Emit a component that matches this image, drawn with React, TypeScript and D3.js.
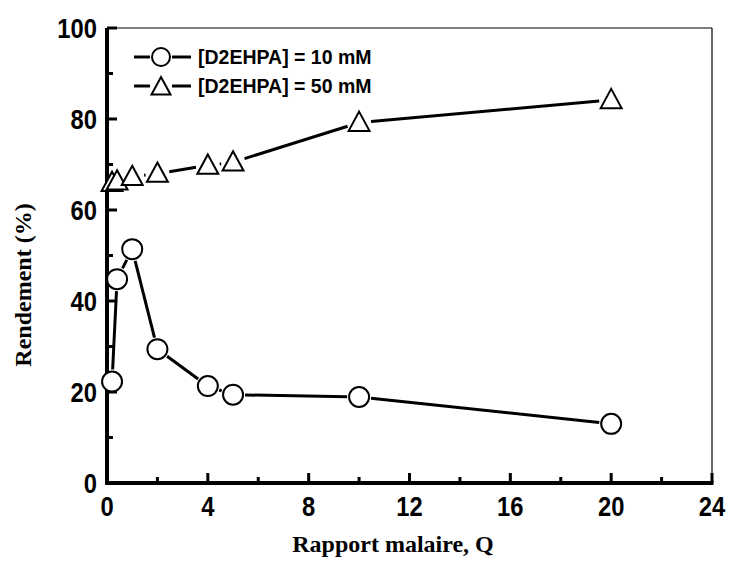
import React from "react";
import * as d3 from "d3";

const xValues = [0.2, 0.4, 1, 2, 4, 5, 10, 20];
const series10 = [22.3, 44.8, 51.4, 29.4, 21.3, 19.4, 18.9, 13.0];
const series50 = [66.0, 66.3, 67.3, 68.0, 69.8, 70.5, 79.2, 84.2];
const xTicks = [0, 4, 8, 12, 16, 20, 24];
const yTicks = [0, 20, 40, 60, 80, 100];
const legendLabels = ["[D2EHPA] = 10 mM", "[D2EHPA] = 50 mM"];

const W = 729, H = 564;
const L = 107, R = 712, T = 28, B = 483;

export default function App() {
  const x = d3.scaleLinear().domain([0, 24]).range([L, R]);
  const y = d3.scaleLinear().domain([0, 100]).range([B, T]);
  const minorX = d3.range(0, 25, 2);
  const minorY = d3.range(0, 101, 10);
  const r = 10;
  const gap = 12;

  const segs = (vals: number[]) => {
    const out: JSX.Element[] = [];
    for (let i = 0; i < vals.length - 1; i++) {
      const x1 = x(xValues[i]), y1 = y(vals[i]);
      const x2 = x(xValues[i + 1]), y2 = y(vals[i + 1]);
      const dx = x2 - x1, dy = y2 - y1;
      const len = Math.hypot(dx, dy);
      if (len <= 2 * gap) continue;
      const ux = dx / len, uy = dy / len;
      out.push(
        <line key={i} x1={x1 + ux * gap} y1={y1 + uy * gap} x2={x2 - ux * gap} y2={y2 - uy * gap}
          stroke="#000" strokeWidth={3} />
      );
    }
    return out;
  };

  const tri = (cx: number, cy: number, s = 11) =>
    `M${cx},${cy - s} L${cx + s * 0.95},${cy + s * 0.75} L${cx - s * 0.95},${cy + s * 0.75} Z`;

  const sans = "Liberation Sans, Arial, sans-serif";
  const serif = "Liberation Serif, Times New Roman, serif";

  return (
    <svg width={W} height={H} style={{ position: "absolute", left: 0, top: 0, background: "#fff" }}>
      <rect x={0} y={0} width={W} height={H} fill="#fff" />
      <line x1={L} y1={T} x2={R} y2={T} stroke="#000" strokeWidth={1.2} />
      <line x1={R} y1={T} x2={R} y2={B} stroke="#000" strokeWidth={1.2} />
      {minorX.map((v) => (
        <line key={"mx" + v} x1={x(v)} x2={x(v)} y1={B} y2={B - (v % 4 === 0 ? 10 : 6)} stroke="#000" strokeWidth={3} />
      ))}
      {minorY.map((v) => (
        <line key={"my" + v} x1={L} x2={L + (v % 20 === 0 ? 10 : 6)} y1={y(v)} y2={y(v)} stroke="#000" strokeWidth={3} />
      ))}
      <line x1={L} y1={T} x2={L} y2={B + 1.5} stroke="#000" strokeWidth={4} />
      <line x1={L - 1.5} y1={B} x2={R + 1.5} y2={B} stroke="#000" strokeWidth={4} />
      {yTicks.map((v) => (
        <text key={"yl" + v} transform={`translate(${L - 10},${y(v) + 10}) scale(0.88,1)`} textAnchor="end"
          fontFamily={sans} fontWeight="bold" fontSize={27}>{v}</text>
      ))}
      {xTicks.map((v) => (
        <text key={"xl" + v} transform={`translate(${x(v)},${B + 33}) scale(0.88,1)`} textAnchor="middle"
          fontFamily={sans} fontWeight="bold" fontSize={27}>{v}</text>
      ))}
      <text x={393} y={552} textAnchor="middle" fontFamily={serif}
        fontWeight="bold" fontSize={24}>Rapport malaire, Q</text>
      <text transform={`translate(31,285) rotate(-90)`} textAnchor="middle"
        fontFamily={serif} fontWeight="bold" fontSize={24}>Rendement (%)</text>
      {segs(series10)}
      {segs(series50)}
      {xValues.map((v, i) => (
        <circle key={"c" + i} cx={x(v)} cy={y(series10[i])} r={r} fill="#fff" stroke="#000" strokeWidth={2} />
      ))}
      {xValues.map((v, i) => (
        <path key={"t" + i} d={tri(x(v), y(series50[i]))} fill="#fff" stroke="#000" strokeWidth={2} />
      ))}
      {legendLabels.map((lab, i) => {
        const ly = 57 + i * 29;
        const cx = 161;
        return (
          <g key={"lg" + i}>
            <line x1={134} x2={150} y1={ly} y2={ly} stroke="#000" strokeWidth={3} />
            <line x1={172} x2={191} y1={ly} y2={ly} stroke="#000" strokeWidth={3} />
            {i === 0 ? (
              <circle cx={cx} cy={ly} r={9} fill="#fff" stroke="#000" strokeWidth={2} />
            ) : (
              <path d={tri(cx, ly + 1, 10)} fill="#fff" stroke="#000" strokeWidth={2} />
            )}
            <text x={198} y={ly + 7} fontFamily={sans} fontWeight="bold" fontSize={19.5}>{lab}</text>
          </g>
        );
      })}
    </svg>
  );
}
